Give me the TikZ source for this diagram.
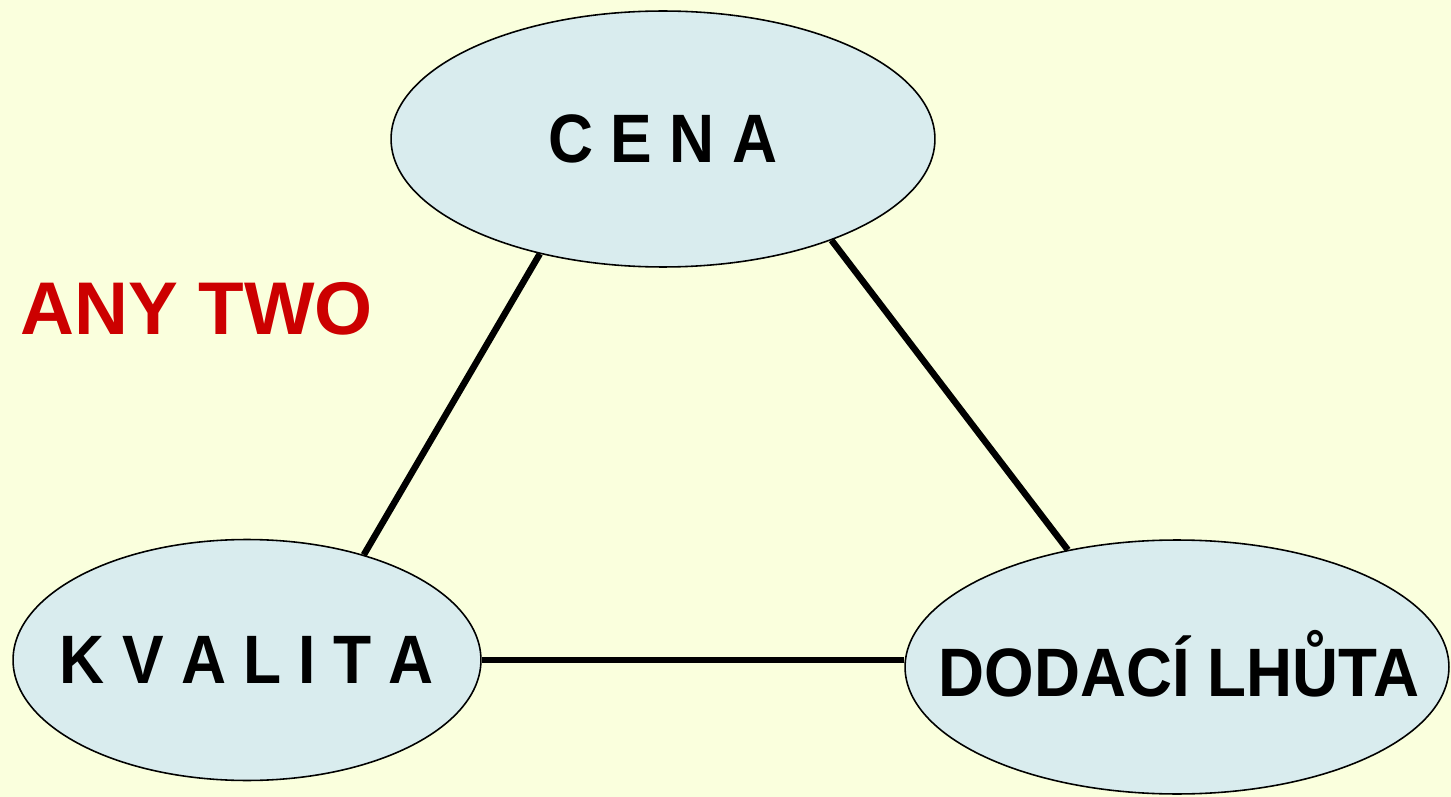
\documentclass[tikz,border=0pt]{standalone}
\usepackage{fontspec}
\setmainfont{Liberation Sans}
\usetikzlibrary{shapes.geometric}
\definecolor{bgyellow}{RGB}{250,255,221}
\definecolor{ovalblue}{RGB}{217,236,238}
\definecolor{anyred}{RGB}{204,0,0}
\tikzset{
  oval/.style={ellipse, draw=black, line width=0.9pt, fill=ovalblue, inner sep=0pt},
  lbl/.style={inner sep=0pt, font=\fontsize{39}{42}\selectfont\bfseries\addfontfeature{FakeStretch=0.91}},
  lblwide/.style={inner sep=0pt, font=\fontsize{39}{42}\selectfont\bfseries\addfontfeature{FakeStretch=0.93}},
  conn/.style={line width=3.7pt, black},
}
\begin{document}
\begin{tikzpicture}[x=0.02cm, y=-0.02cm]
\fill[bgyellow] (0,0) rectangle (1451,797);
\useasboundingbox (0,0) rectangle (1451,797);
\node[oval, minimum width=10.88cm, minimum height=5.12cm] (cena) at (663,139) {};
\node[oval, minimum width=9.36cm, minimum height=4.82cm] (kval) at (247,660) {};
\node[oval, minimum width=10.88cm, minimum height=5.08cm] (dod) at (1177,667) {};
\node[lbl] (cenatext) at (cena.center) {C E N A};
\node[lbl] (kvaltext) at (kval.center) {K V A L I T A};
\node[lblwide, yshift=0.06cm] (dodtext) at ([xshift=0.04cm]dod.center) {DODACÍ LHŮTA};
\node[anchor=west, inner sep=0pt, text=anyred, font=\fontsize{42.5}{46}\selectfont\bfseries] (anytwo) at (20,309) {ANY TWO};
\draw[conn] (cena.223.3) -- (kval.42.6);
\draw[conn] (cena.-31) -- (dod.133);
\draw[conn] (kval.east) -- (kval.east -| dod.west);
\end{tikzpicture}
\end{document}
